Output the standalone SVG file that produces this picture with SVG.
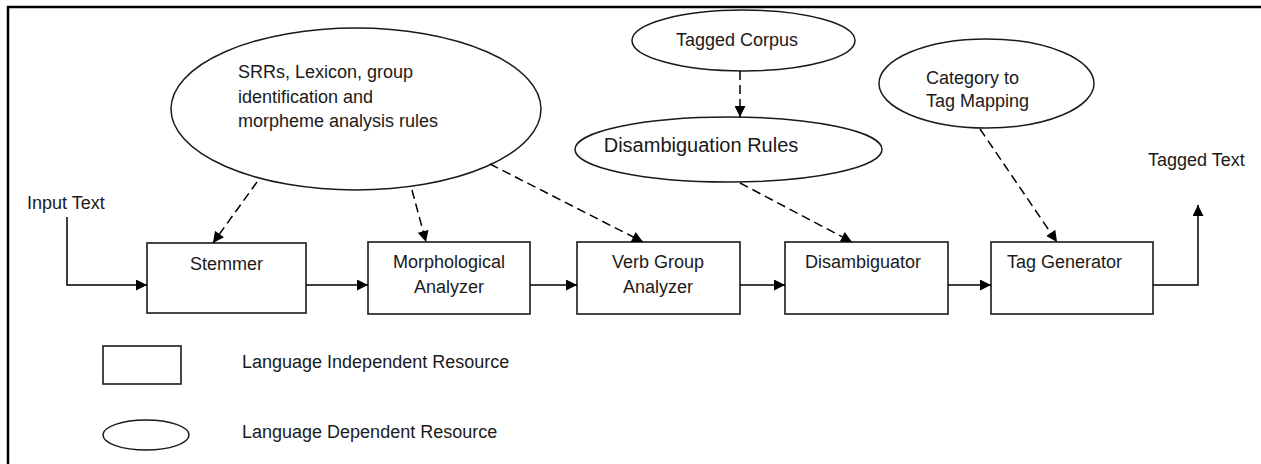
<svg xmlns="http://www.w3.org/2000/svg" width="1261" height="464" viewBox="0 0 1261 464">
  <defs>
    <style>
      .box { fill: #ffffff; stroke: #1a1a1a; stroke-width: 1.6; }
      .ell { fill: #ffffff; stroke: #1a1a1a; stroke-width: 1.5; }
      .lbl { font-family: "Liberation Sans", Arial, sans-serif; font-size: 18px; fill: #1a1a1a; }
      .mid { text-anchor: middle; }
      .solid { fill: none; stroke: #000000; stroke-width: 1.5; }
      .dash { fill: none; stroke: #000000; stroke-width: 1.5; stroke-dasharray: 9 5; }
    </style>
    <marker id="arrow" viewBox="0 0 10 10" refX="10" refY="5" markerWidth="12" markerHeight="11" markerUnits="userSpaceOnUse" orient="auto">
      <path d="M0,0 L10,5 L0,10 Z" fill="#000000"/>
    </marker>
  </defs>

  <rect x="8" y="7" width="1300" height="520" fill="#ffffff" stroke="#000000" stroke-width="2.5"/>

  <g id="resources-ellipse">
    <ellipse class="ell" cx="356" cy="109" rx="185" ry="81"/>
    <text class="lbl" x="238" y="78">SRRs, Lexicon, group</text>
    <text class="lbl" x="238" y="103">identification and</text>
    <text class="lbl" x="238" y="127">morpheme analysis rules</text>
  </g>

  <g id="tagged-corpus">
    <ellipse class="ell" cx="743.5" cy="40.5" rx="111.5" ry="30.5"/>
    <text class="lbl mid" x="737" y="46">Tagged Corpus</text>
  </g>

  <g id="disambiguation-rules">
    <ellipse class="ell" cx="728.5" cy="149.5" rx="153.5" ry="32.5"/>
    <text class="lbl mid" x="701" y="152" style="font-size:20px">Disambiguation Rules</text>
  </g>

  <g id="category-mapping">
    <ellipse class="ell" cx="986.5" cy="83.5" rx="107.5" ry="44.5"/>
    <text class="lbl" x="926" y="84">Category to</text>
    <text class="lbl" x="926" y="107">Tag Mapping</text>
  </g>

  <g id="input-text">
    <text class="lbl" x="27" y="209">Input Text</text>
  </g>

  <g id="tagged-text">
    <text class="lbl" x="1148" y="166">Tagged Text</text>
  </g>

  <g id="stemmer">
    <rect class="box" x="147" y="243" width="159" height="70"/>
    <text class="lbl mid" x="226.5" y="270">Stemmer</text>
  </g>

  <g id="morphological-analyzer">
    <rect class="box" x="368" y="242" width="162" height="72"/>
    <text class="lbl mid" x="449" y="268">Morphological</text>
    <text class="lbl mid" x="449" y="293">Analyzer</text>
  </g>

  <g id="verb-group-analyzer">
    <rect class="box" x="577" y="242" width="163" height="72"/>
    <text class="lbl mid" x="658" y="268">Verb Group</text>
    <text class="lbl mid" x="658" y="293">Analyzer</text>
  </g>

  <g id="disambiguator">
    <rect class="box" x="785" y="242" width="163" height="72"/>
    <text class="lbl" x="805" y="268">Disambiguator</text>
  </g>

  <g id="tag-generator">
    <rect class="box" x="991" y="242" width="162" height="72"/>
    <text class="lbl" x="1007" y="268">Tag Generator</text>
  </g>

  <g id="legend-independent">
    <rect class="box" x="103" y="346" width="78" height="38"/>
    <text class="lbl" x="242" y="368">Language Independent Resource</text>
  </g>

  <g id="legend-dependent">
    <ellipse class="ell" cx="146" cy="435" rx="43" ry="15"/>
    <text class="lbl" x="242" y="438">Language Dependent Resource</text>
  </g>

  <g id="connectors">
    <path class="solid" d="M67,217 V285 H147" marker-end="url(#arrow)"/>
    <path class="solid" d="M306,285 H368" marker-end="url(#arrow)"/>
    <path class="solid" d="M530,285 H577" marker-end="url(#arrow)"/>
    <path class="solid" d="M740,285 H785" marker-end="url(#arrow)"/>
    <path class="solid" d="M948,285 H991" marker-end="url(#arrow)"/>
    <path class="solid" d="M1153,285 H1198 V205" marker-end="url(#arrow)"/>
    <path class="dash" d="M257,182 L213,243" marker-end="url(#arrow)"/>
    <path class="dash" d="M412,190 L426,242" marker-end="url(#arrow)"/>
    <path class="dash" d="M490,164 L643,242" marker-end="url(#arrow)"/>
    <path class="dash" d="M740,183 L852,242" marker-end="url(#arrow)"/>
    <path class="dash" d="M740,71 L740,117" marker-end="url(#arrow)"/>
    <path class="dash" d="M980,129 L1057,242" marker-end="url(#arrow)"/>
  </g>
</svg>
